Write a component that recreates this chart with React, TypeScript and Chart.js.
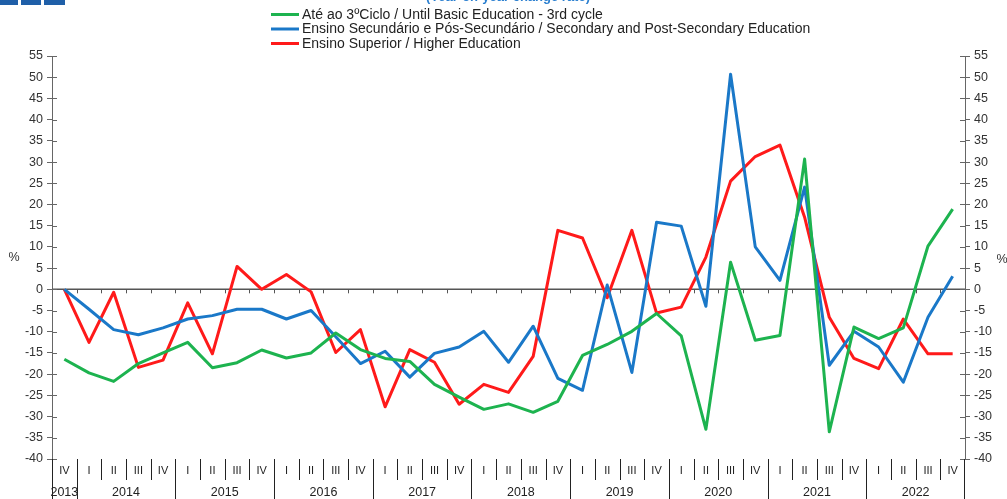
import React, { useEffect, useRef } from "react";
import { Chart, registerables } from "chart.js";

Chart.register(...registerables);

const quarters = [
  "IV",
  "I", "II", "III", "IV",
  "I", "II", "III", "IV",
  "I", "II", "III", "IV",
  "I", "II", "III", "IV",
  "I", "II", "III", "IV",
  "I", "II", "III", "IV",
  "I", "II", "III", "IV",
  "I", "II", "III", "IV",
  "I", "II", "III", "IV",
];

const years = ["2013", "2014", "2015", "2016", "2017", "2018", "2019", "2020", "2021", "2022"];

const basicEducation = [
  -16.5, -19.7, -21.7, -17.5, -15, -12.5, -18.5, -17.3, -14.3, -16.2, -15,
  -10.3, -14.2, -16.3, -17, -22.4, -25.4, -28.3, -27, -29, -26.4, -15.6,
  -13, -9.9, -5.7, -11, -33, 6.4, -12, -10.9, 30.7, -33.6, -8.9, -11.6,
  -9.1, 10.2, 18.9,
];

const secondaryEducation = [
  0, -4.7, -9.5, -10.7, -9.1, -7, -6.2, -4.7, -4.7, -7, -5,
  -11.2, -17.5, -14.6, -20.7, -15.1, -13.6, -9.9, -17.2, -8.7, -21, -23.8,
  1, -19.6, 15.8, 14.9, -4, 50.7, 10, 2.1, 24.1, -17.9, -9.9, -13.6,
  -21.9, -6.6, 3.1,
];

const higherEducation = [
  0, -12.5, -0.7, -18.4, -16.7, -3.2, -15.2, 5.4, 0, 3.5, -0.6,
  -14.9, -9.5, -27.7, -14.2, -17.2, -27.1, -22.4, -24.3, -15.8, 13.9, 12.1,
  -2, 13.9, -5.6, -4.2, 7.6, 25.5, 31.3, 34, 17, -6.6, -16.3, -18.7,
  -7, -15.2, -15.2,
];

const seriesNames = [
  "Até ao 3ºCiclo / Until Basic Education - 3rd cycle",
  "Ensino Secundário e Pós-Secundário / Secondary and Post-Secondary Education",
  "Ensino Superior / Higher Education",
];

const colors = ["#1db34f", "#1a78c8", "#ff1a1a"];

const FONT = "'Liberation Sans', Arial, sans-serif";

const decorPlugin = {
  id: "decor",
  beforeDatasetsDraw(chart: any) {
    const { ctx, chartArea } = chart;
    const y = chart.scales.y;
    const x = chart.scales.x;
    const y0 = y.getPixelForValue(0);
    const step = x.getPixelForValue(1) - x.getPixelForValue(0);
    ctx.save();
    ctx.strokeStyle = "#555";
    ctx.lineWidth = 1.5;
    ctx.beginPath();
    ctx.moveTo(chartArea.left, y0);
    ctx.lineTo(chartArea.right, y0);
    ctx.stroke();
    ctx.lineWidth = 1;
    ctx.beginPath();
    for (let k = 1; k < quarters.length; k++) {
      const bx = Math.round(x.getPixelForValue(k) - step / 2) + 0.5;
      ctx.moveTo(bx, y0);
      ctx.lineTo(bx, y0 + 4);
    }
    ctx.stroke();
    ctx.strokeStyle = "#666";
    ctx.beginPath();
    for (let v = -40; v <= 55; v += 5) {
      const py = Math.round(y.getPixelForValue(v)) + 0.5;
      ctx.moveTo(chartArea.left, py);
      ctx.lineTo(chartArea.left + 5, py);
      ctx.moveTo(chartArea.right - 5, py);
      ctx.lineTo(chartArea.right, py);
    }
    ctx.stroke();
    ctx.restore();
  },
  afterDraw(chart: any) {
    const { ctx, chartArea } = chart;
    const x = chart.scales.x;
    const step = x.getPixelForValue(1) - x.getPixelForValue(0);
    const bottom = chartArea.bottom;
    ctx.save();
    // logo
    ctx.fillStyle = "#1f5fa8";
    ctx.fillRect(0, 0, 18, 5);
    ctx.fillRect(21, 0, 20, 5);
    ctx.fillRect(44, 0, 21, 5);
    // cut-off subtitle
    ctx.fillStyle = "#2a7fd0";
    ctx.font = `bold 13px ${FONT}`;
    ctx.textAlign = "center";
    ctx.textBaseline = "alphabetic";
    ctx.fillText("(Year-on-year change rate)", 508, 1);

    // legend
    ctx.textAlign = "left";
    ctx.textBaseline = "middle";
    ctx.font = `14px ${FONT}`;
    const ly = [14.5, 29, 43.5];
    chart.data.datasets.forEach((ds: any, i: number) => {
      ctx.strokeStyle = ds.borderColor;
      ctx.lineWidth = 3;
      ctx.beginPath();
      ctx.moveTo(271, ly[i]);
      ctx.lineTo(299, ly[i]);
      ctx.stroke();
      ctx.fillStyle = "#222";
      ctx.fillText(ds.label, 302, ly[i] + 0.5);
    });

    // % labels
    ctx.fillStyle = "#333";
    ctx.font = `12.5px ${FONT}`;
    ctx.textAlign = "center";
    ctx.fillText("%", 14, 258);
    ctx.fillText("%", 1002, 260);

    // x axis separators
    ctx.strokeStyle = "#222";
    ctx.lineWidth = 1;
    ctx.beginPath();
    for (let k = 1; k < quarters.length; k++) {
      const bx = Math.round(x.getPixelForValue(k) - step / 2) + 0.5;
      const isYear = quarters[k] === "I";
      ctx.moveTo(bx, bottom);
      ctx.lineTo(bx, isYear ? 499 : 480);
    }
    ctx.moveTo(chartArea.left + 0.5, bottom);
    ctx.lineTo(chartArea.left + 0.5, 499);
    ctx.moveTo(chartArea.right - 0.5, bottom);
    ctx.lineTo(chartArea.right - 0.5, 499);
    ctx.stroke();

    // quarter labels
    ctx.fillStyle = "#222";
    ctx.font = `11px ${FONT}`;
    ctx.textAlign = "center";
    ctx.textBaseline = "middle";
    quarters.forEach((q, i) => {
      ctx.fillText(q, x.getPixelForValue(i), 471);
    });

    // year labels
    ctx.font = `12.5px ${FONT}`;
    let yi = 0;
    let start = 0;
    for (let k = 1; k <= quarters.length; k++) {
      if (k === quarters.length || quarters[k] === "I") {
        const cx = (x.getPixelForValue(start) + x.getPixelForValue(k - 1)) / 2;
        if (years[yi]) ctx.fillText(years[yi], cx, 493);
        yi++;
        start = k;
      }
    }
    ctx.restore();
  },
};

export default function App() {
  const ref = useRef<HTMLCanvasElement>(null);
  useEffect(() => {
    if (!ref.current) return;
    const tickFont = { family: FONT, size: 12.5 };
    const chart = new Chart(ref.current, {
      type: "line",
      data: {
        labels: quarters,
        datasets: [basicEducation, secondaryEducation, higherEducation].map((d, i) => ({
          label: seriesNames[i],
          data: d,
          borderColor: colors[i],
          backgroundColor: colors[i],
          borderWidth: 3,
          borderJoinStyle: "round",
          pointRadius: 0,
          tension: 0,
          fill: false,
        })),
      },
      options: {
        animation: false,
        responsive: false,
        layout: { padding: { top: 56, bottom: 40, left: 0, right: 0 } },
        plugins: { legend: { display: false }, tooltip: { enabled: false } },
        scales: {
          x: { type: "category", offset: true, display: false },
          y: {
            position: "left",
            min: -40,
            max: 55,
            ticks: { stepSize: 5, font: tickFont, color: "#333", padding: 4 },
            grid: { drawOnChartArea: false, drawTicks: true, tickLength: 5, color: "#666" },
            border: { color: "#666", width: 1 },
            afterFit: (s: any) => { s.width = 52; },
          },
          y2: {
            position: "right",
            min: -40,
            max: 55,
            ticks: { stepSize: 5, font: tickFont, color: "#333", padding: 4 },
            grid: { drawOnChartArea: false, drawTicks: true, tickLength: 5, color: "#666" },
            border: { color: "#666", width: 1 },
            afterFit: (s: any) => { s.width = 42; },
          },
        },
      },
      plugins: [decorPlugin],
    } as any);
    return () => chart.destroy();
  }, []);
  return (
    <div style={{ position: "absolute", left: 0, top: 0, width: 1007, height: 499, background: "#fff" }}>
      <canvas ref={ref} width={1007} height={499} style={{ display: "block" }} />
    </div>
  );
}
